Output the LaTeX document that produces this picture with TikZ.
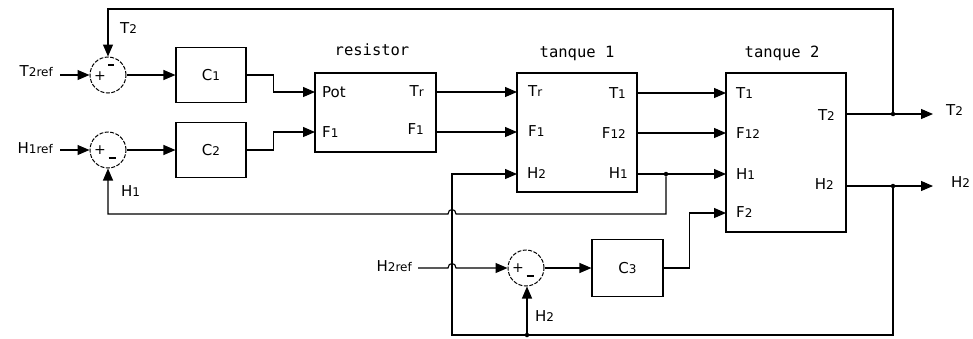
\documentclass[tikz,border=0pt]{standalone}
\usepackage{fontspec}
\setmainfont{DejaVu Sans}
\newfontfamily\monof{DejaVu Sans Mono}
\usetikzlibrary{arrows.meta}
\newcommand\lo[1]{{\fontsize{12}{12}\selectfont #1}}
\begin{document}
\begin{tikzpicture}[x=1pt,y=-1pt,
  wire/.style={line width=1.1pt},
  arr/.style={wire,-{Triangle[length=12pt,width=10pt]}},
  blk/.style={draw,line width=1.1pt,inner sep=0pt,font=\fontsize{15}{15}\selectfont},
  sumc/.style={circle,draw,line width=1pt,dash pattern=on 4pt off 1.5pt,minimum size=36pt,inner sep=0pt},
  lbl/.style={font=\fontsize{15}{15}\selectfont,inner sep=0pt},
  sgn/.style={font=\fontsize{14}{14}\selectfont,inner sep=0pt},
  ttl/.style={font=\monof\fontsize{15.5}{15.5}\selectfont,inner sep=0pt},
  dotn/.style={circle,fill,inner sep=0pt,minimum size=4.5pt},
  minus/.style={line width=1.1pt}]
\useasboundingbox (0,0) rectangle (973,338);

% blocks
\node[sumc] (s1) at (108,75) {};
\node[sumc] (s2) at (108,150) {};
\node[sumc] (s3) at (526,268) {};
\node[blk,minimum width=70pt,minimum height=55pt] (c1) at (211,75) {C\lo{1}};
\node[blk,minimum width=70pt,minimum height=55pt] (c2) at (211,150) {C\lo{2}};
\node[blk,minimum width=121pt,minimum height=79pt] (res) at (375.5,112.5) {};
\node[blk,minimum width=120pt,minimum height=119pt] (t1) at (577,132.5) {};
\node[blk,minimum width=120pt,minimum height=159pt] (t2) at (786,152.5) {};
\node[blk,minimum width=71pt,minimum height=57pt] (c3) at (627.5,268) {C\lo{3}};

% titles
\node[ttl] (tres) at (372,50) {resistor};
\node[ttl] (tt1) at (577,53) {tanque 1};
\node[ttl] (tt2) at (782,53) {tanque 2};

% sum signs
\node[sgn] (p1) at (100,76) {+};
\node[sgn] (p2) at (100,150) {+};
\node[sgn] (p3) at (518,268) {+};
\coordinate (m1) at (111,65);
\coordinate (m2) at (112,158);
\coordinate (m3) at (530,276);
\draw[minus] ([xshift=-3pt]m1) -- ([xshift=3pt]m1);
\draw[minus] ([xshift=-3.5pt]m2) -- ([xshift=3.5pt]m2);
\draw[minus] ([xshift=-3.5pt]m3) -- ([xshift=3.5pt]m3);

% port labels
\node[lbl,anchor=west] (lPot) at (322,92) {Pot};
\node[lbl,anchor=west] (lrF1) at (322,132) {F\lo{1}};
\node[lbl,anchor=east] (lrTr) at (424,91) {T\lo{r}};
\node[lbl,anchor=east] (lrF1o) at (424,129) {F\lo{1}};
\node[lbl,anchor=west] (l1Tr) at (528,91) {T\lo{r}};
\node[lbl,anchor=west] (l1F1) at (528,131) {F\lo{1}};
\node[lbl,anchor=west] (l1H2) at (527,173) {H\lo{2}};
\node[lbl,anchor=east] (l1T1) at (626,93) {T\lo{1}};
\node[lbl,anchor=east] (l1F12) at (626,133) {F\lo{12}};
\node[lbl,anchor=east] (l1H1) at (628,173) {H\lo{1}};
\node[lbl,anchor=west] (l2T1) at (736,93) {T\lo{1}};
\node[lbl,anchor=west] (l2F12) at (736,133) {F\lo{12}};
\node[lbl,anchor=west] (l2H1) at (736,174) {H\lo{1}};
\node[lbl,anchor=west] (l2F2) at (736,212) {F\lo{2}};
\node[lbl,anchor=east] (l2T2) at (835,115) {T\lo{2}};
\node[lbl,anchor=east] (l2H2) at (834,184) {H\lo{2}};

% outer labels
\node[lbl,anchor=east] (lT2ref) at (53,71) {T\lo{2ref}};
\node[lbl,anchor=east] (lH1ref) at (53,148) {H\lo{1ref}};
\node[lbl,anchor=east] (lH2ref) at (412,266) {H\lo{2ref}};
\node[lbl,anchor=west] (lT2top) at (120,28) {T\lo{2}};
\node[lbl,anchor=west] (lH1fb) at (121,191) {H\lo{1}};
\node[lbl,anchor=west] (lH2fb) at (535,316) {H\lo{2}};
\node[lbl,anchor=west] (lT2out) at (946,110) {T\lo{2}};
\node[lbl,anchor=west] (lH2out) at (951,182) {H\lo{2}};

% ports and junctions
\coordinate (inT2) at (60,75);
\coordinate (inH1) at (60,150);
\coordinate (inH2) at (418,268);
\coordinate (resPot) at (315,92);
\coordinate (resF1) at (315,132);
\coordinate (resTr) at (436,92);
\coordinate (resF1o) at (436,132);
\coordinate (t1Tr) at (517,92);
\coordinate (t1F1) at (517,132);
\coordinate (t1H2) at (517,174);
\coordinate (t1T1) at (637,93);
\coordinate (t1F12) at (637,133);
\coordinate (t1H1) at (637,174);
\coordinate (t2T1) at (726,93);
\coordinate (t2F12) at (726,133);
\coordinate (t2H1) at (726,174);
\coordinate (t2F2) at (726,213);
\coordinate (t2T2) at (846,114);
\coordinate (t2H2) at (846,186);
\coordinate (outT2) at (933,114);
\coordinate (outH2) at (933,186);
\node[dotn] (dT2) at (893,114) {};
\node[dotn] (dH2) at (893,186) {};
\node[dotn] (dH1) at (666,174) {};
\node[dotn] (dB) at (527,335) {};

% connectors
\draw[arr] (inT2) -- (s1.west);
\draw[arr] (inH1) -- (s2.west);
\draw[arr] (s1.east) -- (c1.west);
\draw[arr] (s2.east) -- (c2.west);
\draw[arr] (c1.east) -- ++(27,0) |- (resPot);
\draw[arr] (c2.east) -- ++(27,0) |- (resF1);
\draw[arr] (resTr) -- (t1Tr);
\draw[arr] (resF1o) -- (t1F1);
\draw[arr] (t1T1) -- (t2T1);
\draw[arr] (t1F12) -- (t2F12);
\draw[wire] (t1H1) -- (dH1);
\draw[arr] (dH1) -- (t2H1);
\draw[wire] (t2T2) -- (dT2);
\draw[arr] (dT2) -- (outT2);
\draw[wire] (t2H2) -- (dH2);
\draw[arr] (dH2) -- (outH2);
\draw[arr] (dT2) -- (893,9) -| (s1.north);
\draw[arr] (dH1) |- (456,214) .. controls (456,208) and (448,208) .. (448,214) -- (108,214) -- (s2.south);
\draw[arr] (dH2) |- (452,335) -- (452,174) -- (t1H2);
\draw[arr] (dB) -- (dB |- s3.south);
\draw[arr] (inH2) -- (448,268) .. controls (448,262) and (456,262) .. (456,268) -- (s3.west);
\draw[arr] (s3.east) -- (c3.west);
\draw[arr] (c3.east) -- ++(26,0) |- (t2F2);
\end{tikzpicture}
\end{document}
